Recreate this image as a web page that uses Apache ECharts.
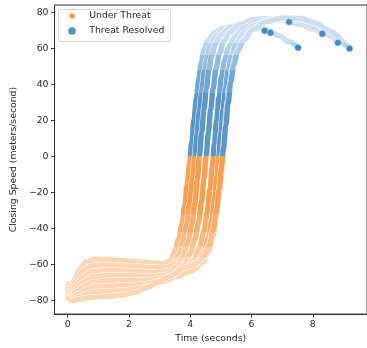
<!DOCTYPE html>
<html><head><meta charset="utf-8">
<script src="https://cdn.jsdelivr.net/npm/echarts@6/dist/echarts.min.js"></script>
<style>html,body{margin:0;padding:0;background:#fff}#c{width:367px;height:348px}</style>
</head><body><div id="c"></div>
<script>
// ---- data ----
const legendLabels = ['Under Threat', 'Threat Resolved'];
const xTicks = [0, 2, 4, 6, 8];
const yTicks = [-80, -60, -40, -20, 0, 20, 40, 60, 80];
const xTitle = 'Time (seconds)';
const yTitle = 'Closing Speed (meters/second)';

// [time (s), closing speed (m/s)]
const trajectory1 = [[0,-71],[0.1,-72],[0.25,-68],[0.4,-62.5],[0.6,-58.5],[0.9,-57.3],[1.5,-57.5],[2.2,-58.3],[2.9,-59.3],[3.2,-59.5],[3.35,-57.5],[3.5,-53],[3.62,-46],[3.73,-38],[3.82,-28],[3.9,-16],[3.98,-4],[4.05,8],[4.12,20],[4.2,32],[4.28,43],[4.36,52],[4.45,59],[4.58,64.5],[4.78,68.5],[5.05,71],[5.4,72.3],[5.8,72.2],[6.15,71.2],[6.43,69.7]];
const trajectory2 = [[0,-72],[0.12,-73],[0.3,-68.5],[0.5,-63.5],[0.75,-61],[1.2,-60.3],[2.0,-60.8],[2.8,-61.8],[3.25,-62],[3.45,-60],[3.62,-55],[3.77,-47],[3.88,-38],[3.98,-26],[4.07,-13],[4.15,0],[4.22,12],[4.3,25],[4.38,37],[4.46,47],[4.55,55],[4.66,61.5],[4.82,66.5],[5.05,70],[5.4,72.3],[5.8,72.6],[6.2,71],[6.62,68.6]];
const trajectory3 = [[0,-73.5],[0.12,-74.5],[0.3,-71],[0.5,-67],[0.8,-64],[1.3,-63.3],[2.1,-63.8],[2.8,-64.5],[3.3,-64],[3.55,-61.5],[3.75,-56],[3.92,-48],[4.05,-38],[4.15,-26],[4.23,-13],[4.3,0],[4.37,13],[4.45,26],[4.53,38],[4.61,48],[4.7,56],[4.82,62.5],[5.0,67.5],[5.3,71.5],[5.7,73.5],[6.1,72.8],[6.5,70.3],[6.9,67],[7.2,63.8],[7.52,60.3]];
const trajectory4 = [[0,-75],[0.13,-76],[0.3,-73.5],[0.5,-70],[0.8,-67],[1.3,-66],[2.1,-66.3],[2.7,-66.8],[3.2,-66],[3.5,-64],[3.8,-60],[4.0,-54],[4.15,-46],[4.27,-37],[4.37,-25],[4.45,-12],[4.52,0],[4.59,13],[4.67,26],[4.75,38],[4.84,48.5],[4.95,57],[5.1,64],[5.3,69],[5.6,73],[6.0,75.5],[6.4,76.4],[6.8,76],[7.23,74.6]];
const trajectory5 = [[0,-76],[0.13,-77],[0.3,-75],[0.5,-72.5],[0.8,-70],[1.3,-69],[2.1,-69],[2.6,-68.8],[3.1,-67.5],[3.5,-65.5],[3.85,-62.5],[4.1,-58],[4.3,-51],[4.45,-42],[4.56,-31],[4.65,-18],[4.72,-6],[4.79,7],[4.86,20],[4.94,33],[5.02,44],[5.12,53],[5.25,60.5],[5.45,66.5],[5.75,71.5],[6.15,74.8],[6.6,76],[7.1,75.5],[7.6,73.3],[8.0,70.8],[8.31,68]];
const trajectory6 = [[0,-77],[0.14,-78.3],[0.35,-76.5],[0.6,-74],[0.9,-72.5],[1.4,-72],[2.1,-71.7],[2.6,-70.8],[3.1,-68.8],[3.55,-66.3],[3.95,-63.5],[4.25,-59.5],[4.45,-53],[4.6,-45],[4.71,-35],[4.8,-23],[4.87,-11],[4.93,0],[5.0,13],[5.07,26],[5.15,38],[5.24,48],[5.35,56],[5.5,62.5],[5.75,68.5],[6.1,72.8],[6.6,75.7],[7.1,76.3],[7.6,75],[8.1,71.5],[8.5,67.5],[8.82,63.1]];
const trajectory7 = [[0,-78],[0.14,-79.3],[0.35,-78.3],[0.6,-76.5],[0.9,-75.3],[1.5,-74.8],[2.1,-74],[2.6,-72.3],[3.1,-69.5],[3.6,-66.5],[4.05,-63.5],[4.4,-59],[4.6,-52.5],[4.74,-44],[4.85,-33],[4.94,-21],[5.01,-9],[5.07,2],[5.13,14],[5.2,27],[5.28,39],[5.38,49],[5.5,57],[5.7,64],[6.0,70],[6.4,74.3],[6.9,76.5],[7.5,76.5],[8.0,74.5],[8.45,70.5],[8.85,65],[9.2,59.8]];
const trajectory8 = [[0,-78.8],[0.15,-80],[0.4,-79.3],[0.8,-78.3],[1.3,-77.8],[1.8,-77],[2.2,-75.5],[2.6,-72.8],[2.95,-69.8],[3.35,-66.5],[3.8,-62],[4.2,-59.5],[4.45,-55.5],[4.62,-49.5],[4.75,-41],[4.86,-30],[4.95,-18],[5.02,-6],[5.09,5],[5.16,17],[5.24,30],[5.32,41],[5.42,51],[5.55,58.5],[5.75,64.5],[6.05,70.5],[6.45,74.5],[7.0,76.8],[7.6,76.5],[8.1,74],[8.55,69.5],[9.05,61.8]];

const endTimes  = [6.43, 6.62, 7.23, 7.52, 8.31, 8.82, 9.20];
const endSpeeds = [69.7, 68.6, 74.6, 60.3, 68.0, 63.1, 59.8];

// ---- chart ----
const trajectories = [trajectory1, trajectory2, trajectory3, trajectory4, trajectory5, trajectory6, trajectory7, trajectory8];
const ORANGE = '#ff7f0e', BLUE = '#1f77b4';
const FONT = 'DejaVu Sans', FS = 9.3, TXT = '#262626', SPINE = '#333333';
const fmt = v => String(v).replace('-', '\u2212');

const series = [];
const coloredIdx = [];
trajectories.forEach((tr) => {
  series.push({
    type: 'line', data: tr, showSymbol: false, smooth: 0.35, smoothMonotone: 'x',
    silent: true, animation: false, lineStyle: { color: '#ffffff', width: 6.3, cap: 'round' }, z: 2
  });
  coloredIdx.push(series.length);
  series.push({
    type: 'line', data: tr, showSymbol: false, smooth: 0.35, smoothMonotone: 'x',
    silent: true, animation: false, lineStyle: { width: 5.4, cap: 'round' }, z: 2
  });
});
series.push({
  type: 'scatter', name: 'ends', data: endTimes.map((t, i) => [t, endSpeeds[i]]),
  symbolSize: 7, itemStyle: { color: BLUE, borderColor: '#ffffff', borderWidth: 0.6 }, z: 3, animation: false
});
series.push({ type: 'scatter', name: legendLabels[0], data: [], itemStyle: { color: ORANGE } });
series.push({ type: 'scatter', name: legendLabels[1], data: [], itemStyle: { color: BLUE } });

const chart = echarts.init(document.getElementById('c'), null, { renderer: 'canvas' });
chart.setOption({
  animation: false,
  backgroundColor: '#ffffff',
  textStyle: { fontFamily: FONT },
  grid: { left: 54.5, top: 5, width: 320.4, height: 311, show: true, borderColor: SPINE, borderWidth: 1, containLabel: false },
  xAxis: {
    type: 'value', min: -0.43, max: 9.77,
    name: xTitle, nameLocation: 'middle', nameGap: 19,
    nameTextStyle: { fontFamily: FONT, fontSize: FS, color: TXT },
    axisLine: { show: true, onZero: false, lineStyle: { color: SPINE, width: 1 } },
    axisTick: { show: true, length: 3.5, customValues: xTicks, lineStyle: { color: SPINE } },
    axisLabel: { customValues: xTicks, formatter: fmt, margin: 6, fontFamily: FONT, fontSize: FS, color: TXT },
    splitLine: { show: false }
  },
  yAxis: {
    type: 'value', min: -87.6, max: 84.0,
    name: yTitle, nameLocation: 'middle', nameGap: 32, nameRotate: 90,
    nameTextStyle: { fontFamily: FONT, fontSize: FS, color: TXT },
    axisLine: { show: true, onZero: false, lineStyle: { color: SPINE, width: 1 } },
    axisTick: { show: true, length: 3.5, customValues: yTicks, lineStyle: { color: SPINE } },
    axisLabel: { customValues: yTicks, formatter: fmt, margin: 6, fontFamily: FONT, fontSize: FS, color: TXT },
    splitLine: { show: false }
  },
  visualMap: {
    type: 'piecewise', show: false, dimension: 1, seriesIndex: coloredIdx,
    pieces: [
      { lt: -56, color: '#fdd6b6' },
      { gte: -56, lt: -50, color: '#fdcaa0' },
      { gte: -50, lt: -42, color: '#fcbb85' },
      { gte: -42, lt: -32, color: '#fcac6a' },
      { gte: -32, lt: 0, color: '#fd9d50' },
      { gte: 0, lt: 35, color: '#5b98ca' },
      { gte: 35, lt: 48, color: '#70a6d3' },
      { gte: 48, lt: 56, color: '#92bbde' },
      { gte: 56, lt: 63, color: '#b3d0e9' },
      { gte: 63, color: '#cbdff0' }
    ],
    outOfRange: { color: '#999' }
  },
  graphic: [{
    type: 'rect', z: 50, silent: true,
    shape: { x: 58.5, y: 9.5, width: 112, height: 32, r: 2.5 },
    style: { fill: 'rgba(255,255,255,0.85)', stroke: '#d4d4d4', lineWidth: 1 }
  }],
  legend: [
    { data: [{ name: legendLabels[0], icon: 'circle' }], left: 69.25, top: 11.5, padding: 0, itemWidth: 5.5, itemHeight: 5.5, z: 60,
      textStyle: { fontFamily: FONT, fontSize: FS, color: TXT, padding: [0, 0, 0, 9.5] }, selectedMode: false },
    { data: [{ name: legendLabels[1], icon: 'circle' }], left: 68.25, top: 26.5, padding: 0, itemWidth: 7.5, itemHeight: 7.5, z: 60,
      textStyle: { fontFamily: FONT, fontSize: FS, color: TXT, padding: [0, 0, 0, 8.5] }, selectedMode: false }
  ],
  series: series
});
</script></body></html>
